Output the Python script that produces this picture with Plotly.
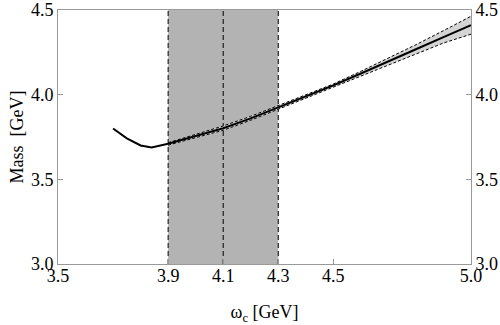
import plotly.graph_objects as go

# central mass curve
omega = [3.70, 3.75, 3.80, 3.84, 3.90, 4.00, 4.10, 4.20, 4.30, 4.40, 4.50,
         4.60, 4.70, 4.80, 4.90, 5.00]
mass = [3.800, 3.742, 3.700, 3.688, 3.710, 3.755, 3.802, 3.860, 3.925, 3.990,
        4.055, 4.125, 4.195, 4.268, 4.340, 4.410]

# error band edges (only from 3.9 on)
band_omega = [3.90, 4.00, 4.10, 4.20, 4.30, 4.40, 4.50, 4.60, 4.70, 4.80, 4.90, 5.00]
band_upper = [3.716, 3.765, 3.815, 3.872, 3.936, 3.999, 4.063, 4.138, 4.215, 4.295, 4.378, 4.463]
band_lower = [3.702, 3.745, 3.790, 3.849, 3.914, 3.982, 4.047, 4.112, 4.177, 4.243, 4.305, 4.357]

# Borel window
window = [3.9, 4.3]
window_lines = [3.9, 4.1, 4.3]

x_ticks = [3.5, 3.9, 4.1, 4.3, 4.5, 5.0]
y_ticks = [3.0, 3.5, 4.0, 4.5]

font = "Liberation Serif"
axis_col = "#999999"
tickfont = dict(family=font, size=18, color="black")

fig = go.Figure()

# band fill
fig.add_trace(go.Scatter(x=band_omega, y=band_lower, mode="lines",
                         line=dict(color="black", width=1, dash="3px,2px"),
                         showlegend=False, hoverinfo="skip"))
fig.add_trace(go.Scatter(x=band_omega, y=band_upper, mode="lines",
                         line=dict(color="black", width=1, dash="3px,2px"),
                         fill="tonexty", fillcolor="#d4d4d4",
                         showlegend=False, hoverinfo="skip"))
# central curve
fig.add_trace(go.Scatter(x=omega, y=mass, mode="lines",
                         line=dict(color="black", width=2),
                         showlegend=False))
# dummy trace so the right axis is drawn
fig.add_trace(go.Scatter(x=[omega[0]], y=[mass[0]], yaxis="y2", mode="markers",
                         marker=dict(opacity=0), showlegend=False, hoverinfo="skip"))

fig.add_vrect(x0=window[0], x1=window[1], fillcolor="#b3b3b3", opacity=1,
              line_width=0, layer="below")
for xv in window_lines:
    fig.add_vline(x=xv, line=dict(color="black", width=1, dash="5px,3px"),
                  layer="below")

fig.update_layout(
    width=500, height=325,
    margin=dict(l=58, r=29, t=10, b=61),
    plot_bgcolor="white", paper_bgcolor="white",
    font=dict(family=font, size=18, color="black"),
    xaxis=dict(range=[3.5, 5.0], tickvals=x_ticks, tickformat=".1f",
               ticks="inside", ticklen=5, tickcolor=axis_col, tickfont=tickfont,
               ticklabelstandoff=-5,
               showline=True, linecolor=axis_col, linewidth=1, mirror=True,
               showgrid=False, zeroline=False, automargin=False,
               title=dict(text="ω<sub>c</sub> [GeV]", standoff=25, font=tickfont)),
    yaxis=dict(range=[3.0, 4.5], tickvals=y_ticks, tickformat=".1f",
               ticks="inside", ticklen=5, tickcolor=axis_col, tickfont=tickfont,
               showline=True, linecolor=axis_col, linewidth=1,
               showgrid=False, zeroline=False, automargin=False,
               title=dict(text="Mass  [GeV]", standoff=2, font=tickfont)),
    yaxis2=dict(range=[3.0, 4.5], tickvals=y_ticks, tickformat=".1f",
                overlaying="y", side="right", tickfont=tickfont,
                ticks="inside", ticklen=5, tickcolor=axis_col,
                showline=True, linecolor=axis_col, linewidth=1,
                showgrid=False, zeroline=False, automargin=False),
)

fig.write_html("out.html", config={"displayModeBar": False},
               post_script="document.body.style.margin='0';")
